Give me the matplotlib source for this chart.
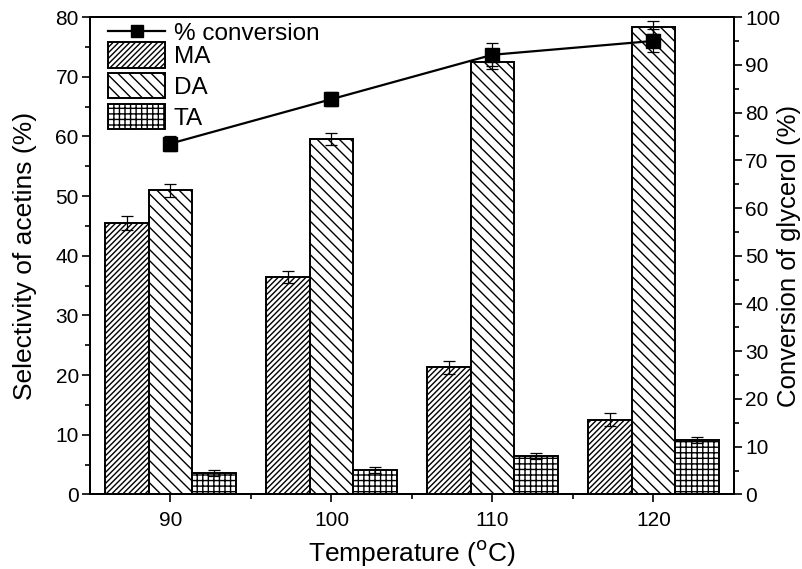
import numpy as np
import matplotlib.pyplot as plt
from matplotlib.ticker import MultipleLocator
from matplotlib.lines import Line2D
from matplotlib.patches import Patch

plt.rcParams['font.family'] = ['Liberation Sans', 'DejaVu Sans']
plt.rcParams['hatch.linewidth'] = 1.0

# Datos: selectividad de acetinas y conversión de glicerol
temperaturas = ['90', '100', '110', '120']
ma = [45.5, 36.4, 21.3, 12.5]
ma_err = [1.1, 1.0, 1.1, 1.1]
da = [51.0, 59.5, 72.5, 78.3]
da_err = [1.1, 1.0, 1.2, 1.1]
ta = [3.6, 4.1, 6.4, 9.2]
ta_err = [0.5, 0.5, 0.5, 0.5]
conversion = [73.5, 82.8, 92.1, 95.0]
conversion_err = [1.5, 1.5, 2.4, 2.4]

x = np.arange(len(temperaturas))
ancho = 0.27

fig = plt.figure(figsize=(8.03, 5.69), dpi=100)
ax = fig.add_axes([0.112, 0.131, 0.802, 0.839])

err_kw = dict(ecolor='black', elinewidth=0.9, capsize=4.5, capthick=0.9)
ax.bar(x - ancho, ma, ancho, yerr=ma_err, color='white', edgecolor='black',
       linewidth=1.4, hatch='//////', error_kw=err_kw)
ax.bar(x, da, ancho, yerr=da_err, color='white', edgecolor='black',
       linewidth=1.4, hatch='\\\\\\', error_kw=err_kw)
ax.bar(x + ancho, ta, ancho, yerr=ta_err, color='white', edgecolor='black',
       linewidth=1.4, hatch='+++', error_kw=err_kw)

ax.set_xlim(-0.5, 3.5)
ax.set_ylim(0, 80)
ax.set_xticks(x)
ax.set_xticklabels(temperaturas)
ax.set_xticks(x[:-1] + 0.5, minor=True)
ax.yaxis.set_major_locator(MultipleLocator(10))
ax.yaxis.set_minor_locator(MultipleLocator(5))
ax.tick_params(axis='both', which='major', direction='out', length=6,
               width=1.2, labelsize=15)
ax.tick_params(axis='both', which='minor', direction='out', length=3.5,
               width=1.2)
ax.tick_params(axis='x', which='major', pad=6)
ax.tick_params(axis='y', which='major', pad=2)
ax.set_xlabel('Temperature ($^{\\mathrm{o}}$C)', fontsize=19, labelpad=6)
ax.set_ylabel('Selectivity of acetins (%)', fontsize=19, labelpad=13)
for s in ax.spines.values():
    s.set_linewidth(1.4)

# Eje secundario: conversión de glicerol
ax2 = ax.twinx()
ax2.errorbar(x, conversion, yerr=conversion_err, color='black', lw=1.6,
             marker='s', markersize=10, capsize=4.5, elinewidth=0.9,
             capthick=0.9)
ax2.set_ylim(0, 100)
ax2.yaxis.set_major_locator(MultipleLocator(10))
ax2.yaxis.set_minor_locator(MultipleLocator(5))
ax2.tick_params(axis='y', which='major', direction='out', length=6,
                width=1.2, labelsize=15, pad=2)
ax2.tick_params(axis='y', which='minor', direction='out', length=3.5,
                width=1.2)
ax2.set_ylabel('Conversion of glycerol (%)', fontsize=18.5, labelpad=-2.5)
for s in ax2.spines.values():
    s.set_linewidth(1.4)

# Leyenda: la línea de conversión y las barras por separado
leg_linea = ax2.legend([Line2D([], [], color='black', lw=1.6, marker='s',
                               markersize=8)],
                       ['% conversion'], loc='upper left',
                       bbox_to_anchor=(0.028, 0.988), frameon=False,
                       fontsize=17.5, handlelength=2.35, handleheight=0.7,
                       handletextpad=0.35, borderaxespad=0, borderpad=0)
ax2.add_artist(leg_linea)

parches = [
    Patch(facecolor='white', edgecolor='black', hatch='//////', linewidth=1.4),
    Patch(facecolor='white', edgecolor='black', hatch='\\\\\\', linewidth=1.4),
    Patch(facecolor='white', edgecolor='black', hatch='+++', linewidth=1.4),
]
ax2.legend(parches, ['MA', 'DA', 'TA'], loc='upper left',
           bbox_to_anchor=(0.028, 0.948), frameon=False, fontsize=17.5,
           handlelength=2.35, handleheight=1.25, labelspacing=0.2,
           handletextpad=0.35, borderaxespad=0, borderpad=0)

fig.savefig('out.png', dpi=100)
